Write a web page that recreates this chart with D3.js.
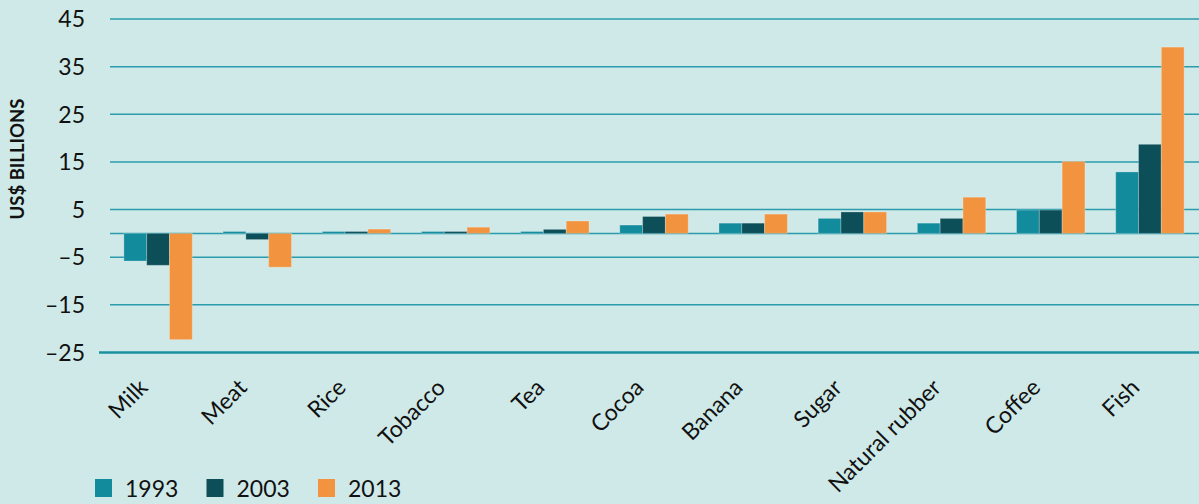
<!DOCTYPE html>
<html><head><meta charset="utf-8">
<script src="https://cdn.jsdelivr.net/npm/d3@7"></script>
<style>
html,body{margin:0;padding:0;background:#cfe9e8;}
svg{display:block;}
text{font-family:Lato,"Open Sans",sans-serif;fill:#111;}
</style></head>
<body>
<svg id="chart" width="1199" height="504"></svg>
<script>
const categories = ["Milk","Meat","Rice","Tobacco","Tea","Cocoa","Banana","Sugar","Natural rubber","Coffee","Fish"];
const seriesNames = ["1993","2003","2013"];
const values1993 = [-5.8, 0.4, 0.4, 0.4, 0.4, 1.75, 2.15, 3.15, 2.15, 4.9, 12.9];
const values2003 = [-6.7, -1.3, 0.4, 0.4, 0.85, 3.55, 2.15, 4.5, 3.15, 4.9, 18.7];
const values2013 = [-22.3, -7.1, 0.9, 1.3, 2.6, 4.05, 4.05, 4.5, 7.6, 15.1, 39.1];
const tickValues = [45, 35, 25, 15, 5, -5, -15, -25];
const tickLabels = ["45","35","25","15","5","\u20135","\u201315","\u201325"];
const colors = ["#128b9d", "#0d4f59", "#f2943f"];

const svg = d3.select("#chart");
const W = 1199, H = 504;
svg.append("rect").attr("width", W).attr("height", H).attr("fill", "#cfe9e8");

const y = d3.scaleLinear().domain([-25, 45]).range([352.5, 19]);
const x = d3.scaleBand().domain(categories).range([108.5, 1199.5]).paddingInner(0.31).paddingOuter(0.155);
const xs = d3.scaleBand().domain(seriesNames).range([0, x.bandwidth()]);

// gridlines
const grid = svg.append("g");
grid.selectAll("line.g").data(tickValues.filter(v => v !== -25)).join("line")
  .attr("class","g")
  .attr("x1", 110).attr("x2", W)
  .attr("y1", d => y(d)).attr("y2", d => y(d))
  .attr("stroke", "#2a9cab").attr("stroke-width", 1.5);
grid.append("line").attr("x1", 110).attr("x2", W)
  .attr("y1", y(0)).attr("y2", y(0))
  .attr("stroke", "#2a9cab").attr("stroke-width", 1.5);
grid.append("line").attr("x1", 99).attr("x2", W)
  .attr("y1", y(-25)).attr("y2", y(-25))
  .attr("stroke", "#1a90a1").attr("stroke-width", 2.5);

// y tick labels
svg.append("g").selectAll("text").data(tickValues).join("text")
  .attr("x", 85).attr("y", d => y(d))
  .attr("dy", "0.36em")
  .attr("text-anchor", "end")
  .style("font-size", "23px")
  .text((d, i) => tickLabels[i]);

// y title
svg.append("text")
  .attr("transform", `translate(24,159) rotate(-90)`)
  .attr("text-anchor", "middle")
  .style("font-size", "18.5px").style("font-weight", "bold")
  .text("US$ BILLIONS");

// bars
const allSeries = [values1993, values2003, values2013];
const barData = [];
categories.forEach((c, i) => {
  seriesNames.forEach((s, j) => barData.push({c, s, v: allSeries[j][i], j}));
});
svg.append("g").selectAll("rect").data(barData).join("rect")
  .attr("x", d => x(d.c) + xs(d.s))
  .attr("width", xs.bandwidth())
  .attr("y", d => y(Math.max(0, d.v)))
  .attr("height", d => Math.abs(y(d.v) - y(0)))
  .attr("fill", d => colors[d.j])
  .attr("stroke", "rgba(255,255,255,0.25)").attr("stroke-width", 1);

// x labels
svg.append("g").selectAll("text").data(categories).join("text")
  .attr("transform", d => `translate(${x(d) + x.bandwidth()/2 - 9},389) rotate(-45)`)
  .attr("text-anchor", "end")
  .style("font-size", "23px")
  .text(d => d);

// legend
const leg = svg.append("g").attr("transform", "translate(95,479)");
const li = leg.selectAll("g").data(seriesNames).join("g")
  .attr("transform", (d, i) => `translate(${i*111.5},0)`);
li.append("rect").attr("width", 17).attr("height", 18).attr("fill", (d, i) => colors[i]);
li.append("text").attr("x", 30).attr("y", 18).style("font-size", "23px").text(d => d);
</script>
</body></html>
